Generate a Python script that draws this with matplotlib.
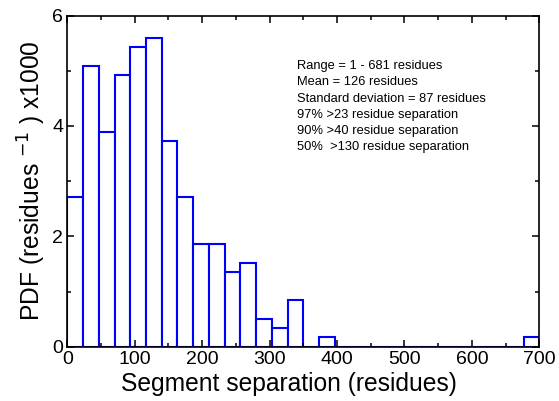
import numpy as np
import matplotlib.pyplot as plt
from matplotlib.ticker import MultipleLocator

plt.rcParams['font.family'] = ['Liberation Sans', 'DejaVu Sans']

# histogram: 30 bins over 0-700 residues, PDF x1000
bin_edges = np.linspace(0, 700, 31)
pdf = [2.71, 5.09, 3.90, 4.92, 5.43, 5.60, 3.72, 2.71, 1.86, 1.86,
       1.35, 1.52, 0.50, 0.33, 0.84, 0.0, 0.17, 0.0, 0.0, 0.0,
       0.0, 0.0, 0.0, 0.0, 0.0, 0.0, 0.0, 0.0, 0.0, 0.17]

stats_lines = [
    "Range = 1 - 681 residues",
    "Mean = 126 residues",
    "Standard deviation = 87 residues",
    "97% >23 residue separation",
    "90% >40 residue separation",
    "50%  >130 residue separation",
]

fig = plt.figure(figsize=(5.59, 4.01), dpi=100)
ax = fig.add_axes([0.1204, 0.1354, 0.8444, 0.8256])

widths = np.diff(bin_edges)
ax.bar(bin_edges[:-1], pdf, width=widths, align='edge',
       facecolor='white', edgecolor='#0000ff', linewidth=1.5)

ax.set_xlim(0, 700)
ax.set_ylim(0, 6)
ax.xaxis.set_major_locator(MultipleLocator(100))
ax.xaxis.set_minor_locator(MultipleLocator(50))
ax.yaxis.set_major_locator(MultipleLocator(2))
ax.yaxis.set_minor_locator(MultipleLocator(1))
ax.tick_params(which='both', direction='in', top=True, right=True,
               labelsize=14, width=1.1)
ax.tick_params(which='major', length=5, pad=3)
ax.tick_params(which='minor', length=3)
for s in ax.spines.values():
    s.set_linewidth(1.2)

ax.set_xlabel("Segment separation (residues)", fontsize=17.7)
ax.xaxis.set_label_coords(0.47, -0.075, transform=ax.transAxes)
ax.xaxis.label.set_va('top')
ax.set_ylabel("PDF (residues $^{-1}$ ) x1000", fontsize=17.7, labelpad=3)

ax.text(341, 5.19, "\n".join(stats_lines), fontsize=9.3, va='top',
        ha='left', linespacing=1.46)

fig.savefig("out.png", dpi=100)
